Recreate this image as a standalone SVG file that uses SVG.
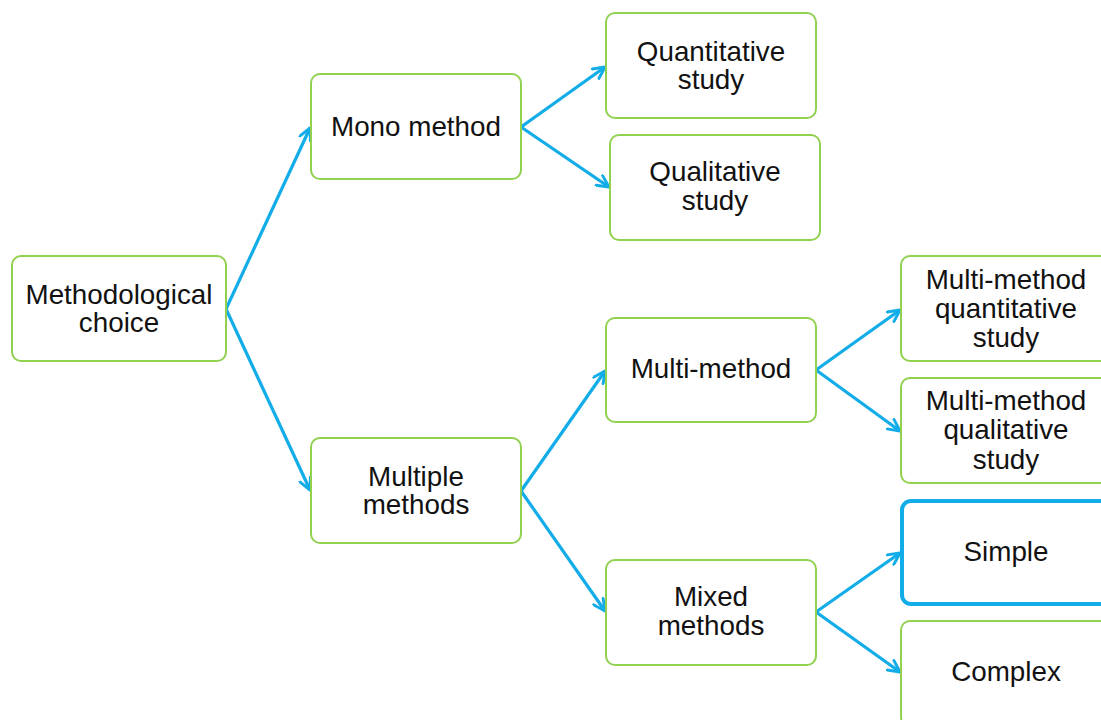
<svg xmlns="http://www.w3.org/2000/svg" width="1101" height="720" viewBox="0 0 1101 720">
<style>
.box{fill:#fff;stroke:#92D050;stroke-width:2}
.sel{fill:#fff;stroke:#12ADE8;stroke-width:4}
.lbl{font-family:"Liberation Sans",Arial,sans-serif;font-size:27.8px;fill:#111;text-anchor:middle}
.con{stroke:#12ADE8;stroke-width:3.2;fill:none;marker-end:url(#arr)}
</style>
<defs>
<marker id="arr" viewBox="0 0 12 12" refX="11" refY="6" markerWidth="14" markerHeight="14" markerUnits="userSpaceOnUse" orient="auto">
<path d="M1,1 L11,6 L1,11" fill="none" stroke="#12ADE8" stroke-width="2.5" stroke-linecap="round" stroke-linejoin="round"/>
</marker>
</defs>
<rect width="1101" height="720" fill="#fff"/>
<g id="connectors">
<line class="con" x1="226" y1="309" x2="310" y2="128"/>
<line class="con" x1="226" y1="309" x2="310" y2="490"/>
<line class="con" x1="521" y1="127" x2="605" y2="67"/>
<line class="con" x1="521" y1="127" x2="609" y2="187"/>
<line class="con" x1="521" y1="491" x2="605" y2="371"/>
<line class="con" x1="521" y1="491" x2="605" y2="611"/>
<line class="con" x1="816" y1="370" x2="900" y2="310"/>
<line class="con" x1="816" y1="370" x2="900" y2="431"/>
<line class="con" x1="816" y1="612" x2="900" y2="553"/>
<line class="con" x1="816" y1="612" x2="900" y2="672"/>
</g>
<g id="n-choice"><rect class="box" x="12" y="256" width="214" height="105" rx="9"/><text class="lbl" x="119" y="304">Methodological</text><text class="lbl" x="119" y="332">choice</text></g>
<g id="n-mono"><rect class="box" x="311" y="74" width="210" height="105" rx="9"/><text class="lbl" x="416" y="136">Mono method</text></g>
<g id="n-multiple"><rect class="box" x="311" y="438" width="210" height="105" rx="9"/><text class="lbl" x="416" y="486">Multiple</text><text class="lbl" x="416" y="514">methods</text></g>
<g id="n-quant"><rect class="box" x="606" y="13" width="210" height="105" rx="9"/><text class="lbl" x="711" y="61">Quantitative</text><text class="lbl" x="711" y="89">study</text></g>
<g id="n-qual"><rect class="box" x="610" y="135" width="210" height="105" rx="9"/><text class="lbl" x="715" y="181">Qualitative</text><text class="lbl" x="715" y="210">study</text></g>
<g id="n-multimethod"><rect class="box" x="606" y="318" width="210" height="104" rx="9"/><text class="lbl" x="711" y="378">Multi-method</text></g>
<g id="n-mixed"><rect class="box" x="606" y="560" width="210" height="105" rx="9"/><text class="lbl" x="711" y="606">Mixed</text><text class="lbl" x="711" y="635">methods</text></g>
<g id="n-mmquant"><rect class="box" x="901" y="256" width="210" height="105" rx="9"/><text class="lbl" x="1006" y="289">Multi-method</text><text class="lbl" x="1006" y="318">quantitative</text><text class="lbl" x="1006" y="347">study</text></g>
<g id="n-mmqual"><rect class="box" x="901" y="378" width="210" height="105" rx="9"/><text class="lbl" x="1006" y="410">Multi-method</text><text class="lbl" x="1006" y="439">qualitative</text><text class="lbl" x="1006" y="469">study</text></g>
<g id="n-simple"><rect class="sel" x="902" y="501" width="210" height="103" rx="9"/><text class="lbl" x="1006" y="561">Simple</text></g>
<g id="n-complex"><rect class="box" x="901" y="621" width="210" height="105" rx="9"/><text class="lbl" x="1006" y="681">Complex</text></g>
</svg>
